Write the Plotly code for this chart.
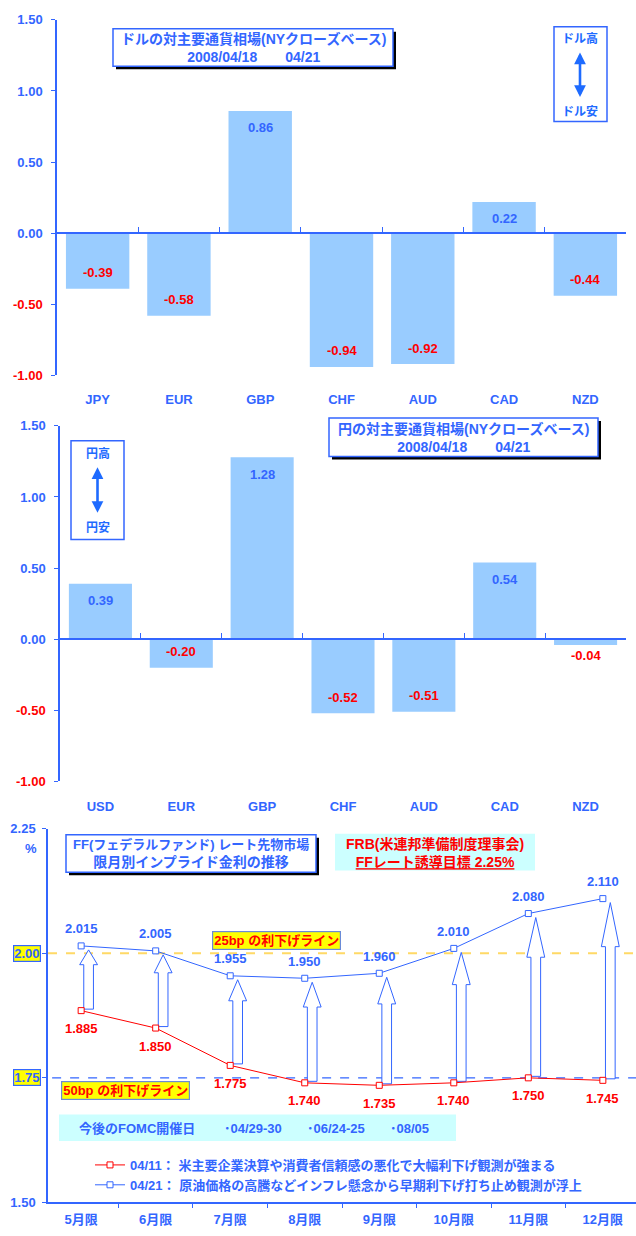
import plotly.graph_objects as go

W, H = 636, 1236
BLUE = "#3366FF"
RED = "#FF0000"
BAR = "#99CCFF"
CYAN = "#CCFFFF"
YEL = "#FFFF00"
GOLD = "#FFD966"
ARROW = "#1E6BFF"
FONT = "Arial, 'Liberation Sans', 'Noto Sans CJK JP', sans-serif"

# ---------------- data ----------------
usd_categories = ["JPY", "EUR", "GBP", "CHF", "AUD", "CAD", "NZD"]
usd_change = [-0.39, -0.58, 0.86, -0.94, -0.92, 0.22, -0.44]

jpy_categories = ["USD", "EUR", "GBP", "CHF", "AUD", "CAD", "NZD"]
jpy_change = [0.39, -0.20, 1.28, -0.52, -0.51, 0.54, -0.04]

contract_months = ["5月限", "6月限", "7月限", "8月限", "9月限", "10月限", "11月限", "12月限"]
ff_0411 = [1.885, 1.850, 1.775, 1.740, 1.735, 1.740, 1.750, 1.745]
ff_0421 = [2.015, 2.005, 1.955, 1.950, 1.960, 2.010, 2.080, 2.110]

bar_ticks = [-1.0, -0.5, 0.0, 0.5, 1.0, 1.5]
ff_ticks = [1.50, 1.75, 2.00, 2.25]
cut_25bp = 2.00
cut_50bp = 1.75
fomc_dates = ["04/29-30", "06/24-25", "08/05"]

name_0411 = "04/11： 米主要企業決算や消費者信頼感の悪化で大幅利下げ観測が強まる"
name_0421 = "04/21： 原油価格の高騰などインフレ懸念から早期利下げ打ち止め観測が浮上"

# ---------------- helpers ----------------
def px(x):
    return x / W


def py(y):
    return 1 - y / H


def f(size, color=BLUE):
    return dict(family=FONT, size=size, color=color, weight="bold")


BAR_RANGE = [-1.0, 1.5]
FF_RANGE = [1.5, 2.25]

top_dom = [py(373), py(13)]
mid_dom = [py(784), py(424)]
bot_dom = [py(1210), py(832)]


def zero_pos(dom, rng):
    return dom[0] + (0 - rng[0]) / (rng[1] - rng[0]) * (dom[1] - dom[0])


def tick_text(v):
    col = RED if v < 0 else BLUE
    return f'<span style="color:{col}">{v:.2f}</span>'


shapes = []
annotations = []


def box(x0, y0, x1, y1, fill, line=None, shadow=False, lw=1.5):
    if shadow:
        shapes.append(dict(type="rect", xref="paper", yref="paper",
                           x0=px(x0 + 3), x1=px(x1 + 3), y0=py(y1 + 3), y1=py(y0 + 3),
                           fillcolor="black", line=dict(width=0), layer="above"))
    shapes.append(dict(type="rect", xref="paper", yref="paper",
                       x0=px(x0), x1=px(x1), y0=py(y1), y1=py(y0),
                       fillcolor=fill,
                       line=dict(color=line if line else fill, width=lw if line else 0),
                       layer="above"))


def text(x, y, t, font, xanchor="center"):
    annotations.append(dict(x=px(x), y=py(y), xref="paper", yref="paper", text=t,
                            showarrow=False, font=font, xanchor=xanchor, yanchor="middle"))


def dbl_arrow(x, y_top, y_bot):
    annotations.append(dict(x=px(x), y=py(y_top), xref="paper", yref="paper",
                            ax=0, ay=y_bot - y_top, axref="pixel", ayref="pixel",
                            text="", showarrow=True, arrowside="end+start",
                            arrowhead=2, arrowsize=0.9, arrowwidth=2.6, arrowcolor=ARROW))


def bar_labels(cats, vals, xref, yref):
    for c, v in zip(cats, vals):
        if v >= 0:
            shift, col = -17, BLUE
        elif v > -0.1:
            shift, col = -11, RED
        else:
            shift, col = 16, RED
        annotations.append(dict(x=c, y=v, xref=xref, yref=yref, text=f"{v:.2f}",
                                showarrow=False, yshift=shift, font=f(13, col)))


# ---------------- traces ----------------
fig = go.Figure()
fig.add_trace(go.Bar(x=usd_categories, y=usd_change, marker=dict(color=BAR, line=dict(width=0)),
                     xaxis="x", yaxis="y", showlegend=False, hoverinfo="skip"))
fig.add_trace(go.Bar(x=jpy_categories, y=jpy_change, marker=dict(color=BAR, line=dict(width=0)),
                     xaxis="x2", yaxis="y2", showlegend=False, hoverinfo="skip"))
fig.add_trace(go.Scatter(x=contract_months, y=ff_0411, mode="lines+markers", name=name_0411,
                         line=dict(color=RED, width=1),
                         marker=dict(symbol="square", size=6, color="white", line=dict(color=RED, width=1)),
                         xaxis="x3", yaxis="y3", cliponaxis=False))
fig.add_trace(go.Scatter(x=contract_months, y=ff_0421, mode="lines+markers", name=name_0421,
                         line=dict(color=BLUE, width=1),
                         marker=dict(symbol="square", size=6, color="white", line=dict(color=BLUE, width=1)),
                         xaxis="x3", yaxis="y3", cliponaxis=False))

# bar value labels
bar_labels(usd_categories, usd_change, "x", "y")
bar_labels(jpy_categories, jpy_change, "x2", "y2")

# FF value labels
for m, v in zip(contract_months, ff_0411):
    annotations.append(dict(x=m, y=v, xref="x3", yref="y3", text=f"{v:.3f}", showarrow=False,
                            yshift=-18, font=f(13, RED)))
for m, v in zip(contract_months, ff_0421):
    annotations.append(dict(x=m, y=v, xref="x3", yref="y3", text=f"{v:.3f}", showarrow=False,
                            yshift=17, font=f(13, BLUE)))

# reference lines
shapes.append(dict(type="line", xref="x3 domain", yref="y3", x0=0, x1=1, y0=cut_25bp, y1=cut_25bp,
                   line=dict(color=GOLD, width=2, dash="dash"), layer="below"))
shapes.append(dict(type="line", xref="x3 domain", yref="y3", x0=0.007, x1=1, y0=cut_50bp, y1=cut_50bp,
                   line=dict(color=BLUE, width=1.2, dash="dash"), layer="below"))

# hollow up arrows from 04/11 to 04/21 levels
OFF, HH, HS = 0.1, 0.12, 0.065
for i, (lo, hi) in enumerate(zip(ff_0411, ff_0421)):
    yb = lo + 0.003
    yt = hi - 0.008
    neck = yt - 0.25 * (yt - yb)
    xc = i + OFF
    path = (f"M {xc - HS},{yb} L {xc - HS},{neck} L {xc - HH},{neck} L {xc},{yt} "
            f"L {xc + HH},{neck} L {xc + HS},{neck} L {xc + HS},{yb} Z")
    shapes.append(dict(type="path", xref="x3", yref="y3", path=path, fillcolor="white",
                       line=dict(color=BLUE, width=1), layer="below"))

# ---------------- boxes & texts ----------------
# top chart
box(113, 22, 393, 60, "white", BLUE, shadow=True)
text(253, 41, "ドルの対主要通貨相場(NYクローズベース)<br>2008/04/18　　04/21", f(14))
box(554, 20, 607, 116, "white", BLUE)
text(580, 32, "ドル高", f(12, ARROW))
text(580, 106, "ドル安", f(12, ARROW))
dbl_arrow(580, 46, 92)

# middle chart
box(329, 416, 598, 455, "white", BLUE, shadow=True)
text(463.5, 436, "円の対主要通貨相場(NYクローズベース)<br>2008/04/18　　04/21", f(14))
box(71, 439, 124, 539, "white", BLUE)
text(97.5, 452, "円高", f(12, ARROW))
text(97.5, 527, "円安", f(12, ARROW))
dbl_arrow(97.5, 466, 513)

# bottom chart
box(66, 838, 316, 876, "white", BLUE, shadow=True)
text(191, 857, "<span style='font-size:13px'>FF(フェデラルファンド) レート先物市場</span><br>限月別インプライド金利の推移", f(14))
box(335, 837, 535, 874, CYAN)
text(435, 856, "FRB(米連邦準備制度理事会)<br><u>FFレート誘導目標 2.25%</u>", f(14, RED))
text(31, 852, "%", f(13))

for lvl in (cut_25bp, cut_50bp):
    annotations.append(dict(x=px(26.5), y=lvl, xref="paper", yref="y3", text=f"{lvl:.2f}",
                            xanchor="center", yanchor="middle",
                            showarrow=False, bgcolor=YEL, bordercolor=BLUE, borderwidth=1.2, borderpad=0,
                            font=f(13)))
annotations.append(dict(x=px(276), y=cut_25bp, xref="paper", yref="y3", yshift=13,
                        xanchor="center", yanchor="middle",
                        text="25bp の利下げライン", showarrow=False, bgcolor=YEL,
                        bordercolor="#6A8BD8", borderwidth=1.2, borderpad=1, font=f(13, RED)))
annotations.append(dict(x=px(125.5), y=cut_50bp, xref="paper", yref="y3", yshift=-13,
                        xanchor="center", yanchor="middle",
                        text="50bp の利下げライン", showarrow=False, bgcolor=YEL,
                        bordercolor="#6A8BD8", borderwidth=1.2, borderpad=1, font=f(13, RED)))

box(59, 1121, 456, 1148, CYAN)
text(77, 1135, "今後のFOMC開催日", f(13), xanchor="left")
for xpos, d in zip([222, 305, 388], fomc_dates):
    text(xpos, 1135, "･" + d, f(13), xanchor="left")

# ---------------- axes ----------------
def cat_x(dom, position, standoff):
    return dict(domain=dom, type="category", showline=True, linecolor=BLUE, linewidth=1.5,
                ticks="inside", tickson="boundaries", ticklen=5, tickcolor=BLUE, tickwidth=1,
                showgrid=False, zeroline=False, tickfont=f(13), fixedrange=True,
                anchor="free", position=position, ticklabelstandoff=standoff)


def bar_y(dom, anchor):
    return dict(domain=dom, anchor=anchor, range=BAR_RANGE, tickvals=bar_ticks,
                ticktext=[tick_text(v) for v in bar_ticks], showline=True, linecolor=BLUE,
                linewidth=1.5, ticks="outside", ticklen=4, tickcolor=BLUE, showgrid=False,
                zeroline=False, tickfont=f(13), ticklabelstandoff=6, fixedrange=True)


layout = dict(
    width=W, height=H, autosize=False,
    margin=dict(l=0, r=0, t=0, b=0),
    paper_bgcolor="white", plot_bgcolor="white",
    bargap=0.22,
    showlegend=True,
    legend=dict(x=px(90), y=py(1157), xanchor="left", yanchor="top", bgcolor="rgba(0,0,0,0)",
                font=f(13), traceorder="normal", tracegroupgap=0, itemwidth=30),
    xaxis=cat_x([px(57), px(626)], zero_pos(top_dom, BAR_RANGE), 154),
    yaxis=bar_y(top_dom, "x"),
    xaxis2=cat_x([px(60), px(626)], zero_pos(mid_dom, BAR_RANGE), 155),
    yaxis2=bar_y(mid_dom, "x2"),
    xaxis3=dict(domain=[px(48), 1.0], anchor="y3", type="category", showline=True, linecolor=BLUE,
                linewidth=1.5, ticks="outside", tickson="boundaries", ticklen=4, tickcolor=BLUE,
                showgrid=False, zeroline=False, tickfont=f(13), fixedrange=True,
                ticklabelstandoff=4),
    yaxis3=dict(domain=bot_dom, anchor="x3", range=FF_RANGE, tickvals=ff_ticks,
                ticktext=["1.50", "", "", "2.25"], showline=True, linecolor=BLUE, linewidth=1.5,
                ticks="outside", ticklen=4, tickcolor=BLUE, showgrid=False, zeroline=False,
                tickfont=f(13), ticklabelstandoff=4, fixedrange=True),
    shapes=shapes,
    annotations=annotations,
)
fig.update_layout(**layout)
fig.write_html("out.html",
               post_script="document.body.style.margin='0';document.body.style.overflow='hidden';")
